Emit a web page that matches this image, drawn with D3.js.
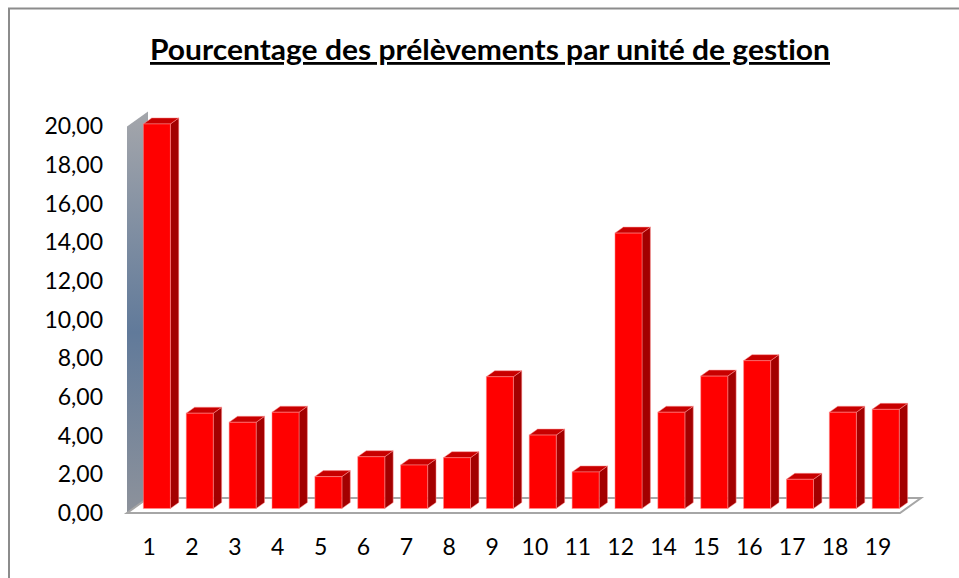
<!DOCTYPE html>
<html>
<head>
<meta charset="utf-8">
<script src="https://cdn.jsdelivr.net/npm/d3@7"></script>
<style>
  body { margin: 0; background: #fff; }
  .axis text { font-family: Lato, "Open Sans", sans-serif; font-size: 23px; fill: #000; }
  .title { font-variant-ligatures: none; }
</style>
</head>
<body>
<div class="chart"></div>
<script>
// data
const units = ["1", "2", "3", "4", "5", "6", "7", "8", "9", "10", "11", "12", "14", "15", "16", "17", "18", "19"];
const pct = [19.9, 4.93, 4.46, 4.98, 1.65, 2.68, 2.25, 2.63, 6.82, 3.80, 1.89, 14.25, 4.98, 6.85, 7.65, 1.51, 4.98, 5.13];
const yTicks = [0, 2, 4, 6, 8, 10, 12, 14, 16, 18, 20];
const title = "Pourcentage des prélèvements par unité de gestion";

const width = 959, height = 578;

// depth of the 3d box (offset of the back plane)
const depth = {dx: 21, dy: -15};
const barZ0 = 0.3, barZ1 = 0.7;   // bars sit between these depths

const svg = d3.select(".chart")
    .append("svg")
    .attr("width", width)
    .attr("height", height);

// outer chart border
svg.append("rect")
    .attr("x", 9)
    .attr("y", 8.5)
    .attr("width", 1000)
    .attr("height", 600)
    .attr("fill", "none")
    .attr("stroke", "#8c8c8c")
    .attr("stroke-width", 2);

const xScale = d3.scaleBand()
    .domain(units)
    .range([127, 900])
    .paddingInner(0.37)
    .paddingOuter(0.2);

const yScale = d3.scaleLinear()
    .domain([0, 20])
    .range([513, 126.5]);

// wall gradient
const defs = svg.append("defs");
const grad = defs.append("linearGradient")
    .attr("id", "wallGrad")
    .attr("x1", 0).attr("y1", 0).attr("x2", 0).attr("y2", 1);
grad.append("stop").attr("offset", "0%").attr("stop-color", "#a4a6ab");
grad.append("stop").attr("offset", "55%").attr("stop-color", "#617a9a");
grad.append("stop").attr("offset", "100%").attr("stop-color", "#8d929b");

const [x0, x1] = xScale.range();
const [y0, yTop] = [yScale(0), yScale(20)];

// back/left wall
svg.append("path")
    .attr("d", `M${x0},${y0} L${x0},${yTop} L${x0 + depth.dx},${yTop + depth.dy} L${x0 + depth.dx},${y0 + depth.dy} Z`)
    .attr("fill", "url(#wallGrad)");

// floor
svg.append("path")
    .attr("d", `M${x0},${y0} L${x1},${y0} L${x1 + depth.dx},${y0 + depth.dy} L${x0 + depth.dx},${y0 + depth.dy} Z`)
    .attr("fill", "#fff")
    .attr("stroke", "#a6a6a6")
    .attr("stroke-width", 2);

// bars
const fx = depth.dx * barZ0 + 1.5, fy = depth.dy * barZ0;
const sx = depth.dx * (barZ1 - barZ0), sy = depth.dy * (barZ1 - barZ0);

const bars = svg.selectAll(".bar")
    .data(units.map((u, i) => ({unit: u, value: pct[i]})))
    .enter()
    .append("g")
    .attr("class", "bar")
    .attr("transform", `translate(${fx},${fy})`);

const bw = xScale.bandwidth();

bars.append("path")   // side
    .attr("d", d => {
        const l = xScale(d.unit) + bw, t = yScale(d.value), b = yScale(0);
        return `M${l},${t} L${l + sx},${t + sy} L${l + sx},${b + sy} L${l},${b} Z`;
    })
    .attr("fill", "#a30000")
    .attr("stroke", "#ff9090")
    .attr("stroke-opacity", 0.5)
    .attr("stroke-width", 1);

bars.append("path")   // top
    .attr("d", d => {
        const l = xScale(d.unit), t = yScale(d.value);
        return `M${l},${t} L${l + bw},${t} L${l + bw + sx},${t + sy} L${l + sx},${t + sy} Z`;
    })
    .attr("fill", "#c80000")
    .attr("stroke", "#ff9090")
    .attr("stroke-opacity", 0.5)
    .attr("stroke-width", 1);

bars.append("rect")   // front
    .attr("x", d => xScale(d.unit))
    .attr("y", d => yScale(d.value))
    .attr("width", bw)
    .attr("height", d => yScale(0) - yScale(d.value))
    .attr("fill", "#ff0000")
    .attr("stroke", "#ff9090")
    .attr("stroke-opacity", 0.5)
    .attr("stroke-width", 1);

// axes
const yAxis = d3.axisLeft(yScale)
    .tickValues(yTicks)
    .tickSize(0)
    .tickPadding(24)
    .tickFormat(d => d3.format(".2f")(d).replace(".", ","));

svg.append("g")
    .attr("class", "axis y-axis")
    .attr("transform", `translate(${x0}, 0)`)
    .call(yAxis)
    .call(g => g.select(".domain").remove());

const xAxis = d3.axisBottom(xScale)
    .tickSize(0)
    .tickPadding(26);

svg.append("g")
    .attr("class", "axis x-axis")
    .attr("transform", `translate(0, ${y0})`)
    .call(xAxis)
    .call(g => g.select(".domain").remove());

// title
svg.append("text")
    .attr("class", "title")
    .attr("x", 490)
    .attr("y", 60)
    .attr("text-anchor", "middle")
    .attr("font-family", "Lato, 'Open Sans', sans-serif")
    .attr("font-weight", "bold")
    .attr("font-size", 28)
    .attr("text-decoration", "underline")
    .attr("textLength", 680)
    .attr("lengthAdjust", "spacingAndGlyphs")
    .text(title);
</script>
</body>
</html>
